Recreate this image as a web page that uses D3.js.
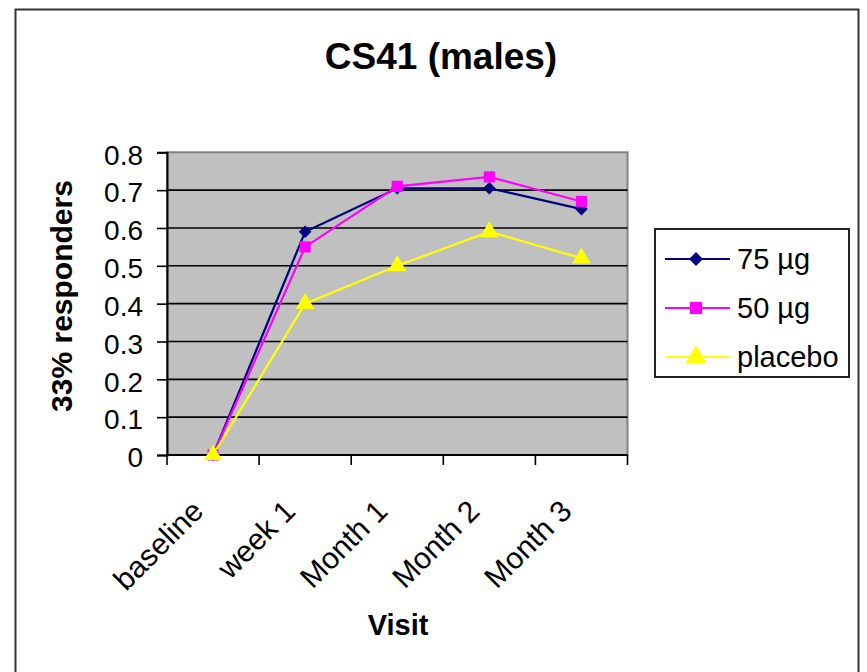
<!DOCTYPE html>
<html>
<head>
<meta charset="utf-8">
<script src="https://cdn.jsdelivr.net/npm/d3@7/dist/d3.min.js"></script>
<style>
  html, body { margin: 0; padding: 0; background: #fff; }
  svg { display: block; font-family: Arial, "Liberation Sans", sans-serif; }
</style>
</head>
<body>
<svg id="chart" width="867" height="672"></svg>
<script>
// Visits along the x axis
const visits = ["baseline", "week 1", "Month 1", "Month 2", "Month 3"];

// Share of 33% responders per treatment group
const dose75 = [0, 0.59, 0.705, 0.705, 0.65];
const dose50 = [0, 0.55, 0.71, 0.735, 0.67];
const placebo = [0, 0.40, 0.50, 0.59, 0.52];

const seriesNames = ["75 µg", "50 µg", "placebo"];
const yTicks = [0, 0.1, 0.2, 0.3, 0.4, 0.5, 0.6, 0.7, 0.8];

// Diamond drawn as a square turned by 45 degrees
const wideDiamond = {
  draw(ctx, size) {
    const r = Math.sqrt(size / 2);
    ctx.moveTo(0, -r);
    ctx.lineTo(r, 0);
    ctx.lineTo(0, r);
    ctx.lineTo(-r, 0);
    ctx.closePath();
  }
};

const series = [
  { name: seriesNames[0], values: dose75, color: "#000080", symbol: wideDiamond, size: 80 },
  { name: seriesNames[1], values: dose50, color: "#ff00ff", symbol: d3.symbolSquare, size: 125 },
  { name: seriesNames[2], values: placebo, color: "#ffff00", symbol: d3.symbolTriangle, size: 150 }
];

const svg = d3.select("#chart");
const plot = { left: 167, right: 627.5, top: 152.3, bottom: 455 };

// Outer chart frame
svg.append("rect")
  .attr("x", 15.5).attr("y", 9.5)
  .attr("width", 843).attr("height", 700)
  .attr("fill", "#fff")
  .attr("stroke", "#333").attr("stroke-width", 2);

// Scales
const x = d3.scaleBand().domain(visits).range([plot.left, plot.right]).padding(0);
const y = d3.scaleLinear().domain([0, 0.8]).range([plot.bottom, plot.top]);
const cx = v => x(v) + x.bandwidth() / 2;

// Plot area background
svg.append("rect")
  .attr("x", plot.left).attr("y", plot.top)
  .attr("width", plot.right - plot.left).attr("height", plot.bottom - plot.top)
  .attr("fill", "#c0c0c0")
  .attr("stroke", "#808080").attr("stroke-width", 2);

// Horizontal gridlines
svg.append("g")
  .selectAll("line")
  .data(yTicks.filter(t => t > 0 && t < 0.8))
  .join("line")
  .attr("x1", plot.left).attr("x2", plot.right)
  .attr("y1", d => y(d)).attr("y2", d => y(d))
  .attr("stroke", "#000").attr("stroke-width", 1.6);

// Y axis
const yAxis = svg.append("g")
  .attr("transform", `translate(${plot.left},0)`)
  .call(d3.axisLeft(y).tickValues(yTicks).tickFormat(d => d === 0 ? "0" : d3.format(".1f")(d)).tickSize(10).tickPadding(14));
yAxis.select(".domain").attr("stroke", "#000").attr("stroke-width", 2);
yAxis.selectAll(".tick line").attr("stroke", "#000").attr("stroke-width", 1.6);
yAxis.selectAll(".tick text")
  .attr("font-size", 28).attr("fill", "#000")
  .attr("font-family", "Arial, 'Liberation Sans', sans-serif")
  .attr("dy", "0.42em");

// X axis baseline and category dividers
const xAxisG = svg.append("g");
xAxisG.append("line")
  .attr("x1", plot.left).attr("x2", plot.right)
  .attr("y1", plot.bottom).attr("y2", plot.bottom)
  .attr("stroke", "#000").attr("stroke-width", 2);
const dividers = visits.map(v => x(v)).concat([plot.right]);
xAxisG.selectAll("line.div")
  .data(dividers)
  .join("line")
  .attr("class", "div")
  .attr("x1", d => d).attr("x2", d => d)
  .attr("y1", plot.bottom).attr("y2", plot.bottom + 10)
  .attr("stroke", "#000").attr("stroke-width", 1.6);

// Rotated category labels
xAxisG.selectAll("text.cat")
  .data(visits)
  .join("text")
  .attr("class", "cat")
  .attr("transform", d => `translate(${cx(d) - 8},${plot.bottom + 58}) rotate(-45)`)
  .attr("text-anchor", "end")
  .attr("font-size", 30)
  .attr("fill", "#000")
  .text(d => d);

// Lines and markers
const line = d3.line().x((d, i) => cx(visits[i])).y(d => y(d));
series.forEach(s => {
  svg.append("path")
    .datum(s.values)
    .attr("d", line)
    .attr("fill", "none")
    .attr("stroke", s.color)
    .attr("stroke-width", 2.2);
});
series.forEach(s => {
  svg.append("g")
    .selectAll("path")
    .data(s.values)
    .join("path")
    .attr("transform", (d, i) => `translate(${cx(visits[i])},${y(d)})`)
    .attr("d", d3.symbol().type(s.symbol).size(s.size))
    .attr("fill", s.color);
});

// Titles
svg.append("text")
  .attr("x", 441).attr("y", 69)
  .attr("text-anchor", "middle")
  .attr("font-size", 37).attr("font-weight", "bold")
  .text("CS41 (males)");

svg.append("text")
  .attr("transform", "translate(72,296) rotate(-90)")
  .attr("text-anchor", "middle")
  .attr("font-size", 30).attr("font-weight", "bold")
  .text("33% responders");

svg.append("text")
  .attr("x", 398).attr("y", 635)
  .attr("text-anchor", "middle")
  .attr("font-size", 29).attr("font-weight", "bold")
  .text("Visit");

// Legend
const legend = svg.append("g");
legend.append("rect")
  .attr("x", 655).attr("y", 229)
  .attr("width", 194).attr("height", 148)
  .attr("fill", "#fff")
  .attr("stroke", "#222").attr("stroke-width", 2);
const rowY = [259, 308, 357];
series.forEach((s, i) => {
  const g = legend.append("g").attr("transform", `translate(0,${rowY[i]})`);
  g.append("line")
    .attr("x1", 665).attr("x2", 730).attr("y1", 0).attr("y2", 0)
    .attr("stroke", s.color).attr("stroke-width", 2.2);
  g.append("path")
    .attr("transform", "translate(696,0)")
    .attr("d", d3.symbol().type(s.symbol).size(s.size * 1.2))
    .attr("fill", s.color);
  g.append("text")
    .attr("x", 737).attr("y", 0).attr("dy", "0.36em")
    .attr("font-size", 29).attr("fill", "#000")
    .text(s.name);
});
</script>
</body>
</html>
